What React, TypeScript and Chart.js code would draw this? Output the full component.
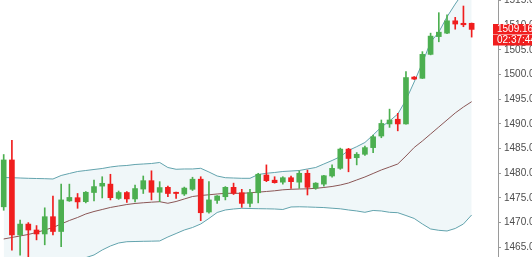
import { useEffect, useRef } from 'react';
import { Chart, registerables } from 'chart.js';

Chart.register(...registerables);

const opens = [1473.2, 1482.7, 1467.5, 1469.7, 1468.5, 1467.7, 1471.2, 1468.2, 1474.4, 1475.05, 1474.25, 1476.1, 1477.4, 1477.8, 1474.9, 1476.1, 1474.8, 1476.8, 1478.5, 1476.15, 1477.15, 1476.15, 1475.8, 1476.75, 1478.8, 1472.15, 1474.5, 1475.25, 1477.15, 1476.05, 1473.9, 1476.05, 1479.65, 1478.6, 1478.2, 1479.1, 1478.2, 1480.0, 1477.0, 1477.8, 1479.45, 1481.0, 1484.9, 1483.15, 1483.85, 1485.2, 1487.55, 1490.0, 1490.95, 1490.0, 1499.5, 1499.25, 1504.1, 1507.7, 1508.4, 1510.9, 1510.4, 1510.4];
const highs = [1483.8, 1486.7, 1470.5, 1470.0, 1469.4, 1473.0, 1475.4, 1477.8, 1477.8, 1475.9, 1476.3, 1478.6, 1479.3, 1479.8, 1476.4, 1476.3, 1477.6, 1479.45, 1480.5, 1478.3, 1477.4, 1476.2, 1477.2, 1479.2, 1479.3, 1478.3, 1475.5, 1477.3, 1478.0, 1476.75, 1476.75, 1480.0, 1481.7, 1479.3, 1479.3, 1479.45, 1480.5, 1480.65, 1478.1, 1479.6, 1481.7, 1485.1, 1485.05, 1484.2, 1485.5, 1487.75, 1490.8, 1493.0, 1492.15, 1500.6, 1499.6, 1504.65, 1508.4, 1512.55, 1512.1, 1511.6, 1513.9, 1510.45];
const lows = [1472.5, 1464.4, 1463.4, 1462.5, 1466.5, 1465.5, 1467.5, 1465.1, 1474.3, 1472.9, 1474.0, 1474.4, 1475.0, 1474.6, 1474.7, 1474.1, 1474.2, 1475.9, 1474.6, 1474.25, 1475.25, 1474.9, 1475.5, 1476.5, 1470.4, 1471.9, 1473.9, 1474.6, 1475.7, 1473.1, 1473.2, 1474.0, 1478.3, 1478.0, 1477.8, 1476.95, 1476.95, 1475.6, 1476.75, 1477.4, 1479.2, 1480.8, 1480.3, 1481.7, 1483.6, 1484.2, 1487.2, 1489.3, 1488.6, 1489.95, 1499.0, 1499.2, 1504.0, 1506.65, 1508.3, 1509.2, 1509.7, 1507.6];
const closes = [1482.7, 1467.5, 1469.7, 1468.5, 1467.7, 1471.2, 1468.2, 1474.6, 1475.1, 1474.2, 1476.15, 1477.3, 1477.97, 1475.05, 1476.1, 1474.8, 1476.9, 1478.5, 1476.15, 1477.1, 1475.9, 1475.9, 1477.0, 1478.8, 1472.0, 1474.6, 1475.4, 1477.15, 1475.95, 1473.9, 1476.05, 1479.8, 1478.5, 1478.1, 1479.1, 1478.3, 1480.0, 1477.15, 1478.0, 1479.5, 1481.0, 1484.9, 1483.0, 1483.85, 1485.2, 1487.4, 1490.1, 1490.8, 1490.0, 1499.4, 1499.1, 1504.1, 1507.8, 1508.6, 1510.9, 1510.25, 1510.1, 1509.16];

const upperBand = [1479.14, 1479.1, 1479.04, 1478.98, 1478.94, 1478.9, 1478.84, 1479.55, 1479.96, 1480.36, 1480.56, 1480.77, 1480.97, 1481.27, 1481.48, 1481.58, 1481.78, 1481.88, 1481.98, 1482.19, 1481.17, 1480.81, 1480.87, 1480.87, 1481.01, 1480.26, 1479.45, 1479.1, 1479.04, 1478.98, 1478.98, 1479.75, 1480.0, 1480.16, 1480.36, 1480.46, 1480.56, 1480.87, 1481.17, 1481.88, 1482.59, 1483.36, 1484.62, 1485.39, 1486.24, 1487.76, 1489.38, 1490.6, 1492.0, 1494.85, 1498.5, 1502.35, 1506.6, 1508.6, 1511.7, 1514.3, 1516.7, 1518.8];
const middleBand = [1466.68, 1466.99, 1467.29, 1467.6, 1468.0, 1468.5, 1469.01, 1469.72, 1470.43, 1471.04, 1471.75, 1472.25, 1472.66, 1473.07, 1473.37, 1473.67, 1473.88, 1474.02, 1474.14, 1474.24, 1473.92, 1474.28, 1474.79, 1475.29, 1475.5, 1475.64, 1475.8, 1475.94, 1475.94, 1475.94, 1476.04, 1476.17, 1476.31, 1476.45, 1476.65, 1476.75, 1476.81, 1476.85, 1476.95, 1477.12, 1477.32, 1477.62, 1478.03, 1478.64, 1479.25, 1479.96, 1480.67, 1481.27, 1481.88, 1483.5, 1485.23, 1486.54, 1487.96, 1489.38, 1490.8, 1492.22, 1493.43, 1494.51];
const lowerBand = [1454.2, 1454.9, 1455.5, 1456.2, 1457.1, 1458.1, 1459.2, 1459.9, 1460.9, 1461.7, 1462.9, 1463.44, 1464.45, 1465.26, 1465.87, 1466.13, 1466.17, 1466.21, 1466.24, 1466.28, 1467.09, 1467.79, 1468.5, 1469.01, 1469.72, 1470.84, 1472.05, 1472.56, 1472.76, 1472.9, 1472.86, 1472.82, 1472.8, 1472.76, 1472.66, 1473.17, 1473.21, 1473.17, 1473.11, 1473.05, 1472.92, 1472.8, 1472.56, 1472.36, 1472.09, 1472.46, 1472.36, 1472.09, 1472.01, 1471.44, 1470.84, 1469.72, 1468.71, 1468.44, 1468.3, 1468.81, 1469.72, 1471.55];

const yTicks = [1465, 1470, 1475, 1480, 1485, 1490, 1495, 1500, 1505, 1510, 1515];
const lastPriceText = '1509.16';
const countdownText = '02:37:44';

const GREEN = '#4caf50';
const RED = '#f01e1e';
const BAND = '#62a3ad';
const MID = '#8a5656';
const FILL = 'rgba(215,235,240,0.38)';

export default function App() {
  const ref = useRef<HTMLCanvasElement>(null);

  useEffect(() => {
    const idx = opens.map((_, i) => i);
    const colors = idx.map((i) => (closes[i] >= opens[i] ? GREEN : RED));

    const priceLabel = {
      id: 'priceLabel',
      afterDraw(chart: any) {
        const ctx = chart.ctx;
        const ys = chart.scales.y;
        const y = Math.round(ys.getPixelForValue(closes[closes.length - 1]));
        const x0 = chart.chartArea.right - 5;
        ctx.save();
        ctx.fillStyle = RED;
        ctx.fillRect(x0, y - 5, 40, 10.5);
        ctx.fillRect(x0, y + 6, 40, 10.5);
        ctx.fillStyle = '#ffffff';
        ctx.font = '10px "Liberation Sans", Arial, sans-serif';
        ctx.textAlign = 'left';
        ctx.textBaseline = 'middle';
        ctx.fillText(lastPriceText, x0 + 4, y + 0.5);
        ctx.fillText(countdownText, x0 + 4, y + 11.5);
        ctx.restore();
      },
    };

    const chart = new Chart(ref.current as HTMLCanvasElement, {
      type: 'bar',
      data: {
        datasets: [
          {
            type: 'bar',
            data: idx.map((i) => ({ x: i, y: [opens[i], closes[i]] })) as any,
            backgroundColor: colors,
            barThickness: 5,
            grouped: false,
            borderWidth: 0,
          } as any,
          {
            type: 'bar',
            data: idx.map((i) => ({ x: i, y: [lows[i], highs[i]] })) as any,
            backgroundColor: colors,
            barThickness: 1,
            grouped: false,
            borderWidth: 0,
          } as any,
          {
            type: 'line',
            data: idx.map((i) => ({ x: i, y: middleBand[i] })),
            borderColor: MID,
            borderWidth: 1,
            pointRadius: 0,
            fill: false,
          } as any,
          {
            type: 'line',
            data: idx.map((i) => ({ x: i, y: upperBand[i] })),
            borderColor: BAND,
            borderWidth: 1,
            pointRadius: 0,
            fill: false,
          } as any,
          {
            type: 'line',
            data: idx.map((i) => ({ x: i, y: lowerBand[i] })),
            borderColor: BAND,
            borderWidth: 1,
            pointRadius: 0,
            fill: '-1',
            backgroundColor: FILL,
          } as any,
        ],
      },
      options: {
        animation: false,
        responsive: false,
        devicePixelRatio: 1,
        layout: { padding: 0, autoPadding: false } as any,
        plugins: {
          legend: { display: false },
          tooltip: { enabled: false },
          filler: { drawTime: 'beforeDatasetsDraw' } as any,
        },
        scales: {
          x: {
            type: 'linear',
            display: false,
            offset: false,
            min: -0.45,
            max: 60.21,
          },
          y: {
            type: 'linear',
            position: 'right',
            min: 1463.03,
            max: 1515.12,
            afterFit: (s: any) => {
              s.width = 34;
              s.paddingTop = 0;
              s.paddingBottom = 0;
            },
            afterBuildTicks: (s: any) => {
              s.ticks = yTicks.map((v) => ({ value: v }));
            },
            grid: {
              drawOnChartArea: false,
              drawTicks: true,
              tickLength: 3,
              color: '#9a9a9a',
            },
            border: { display: true, color: '#9a9a9a' },
            ticks: {
              padding: 3,
              color: '#4d4d4d',
              font: { size: 10, family: '"Liberation Sans", Arial, sans-serif' },
              callback: (v: any) => Number(v).toFixed(2),
            },
          },
        },
      },
      plugins: [priceLabel],
    });
    return () => chart.destroy();
  }, []);

  return (
    <div style={{ position: 'fixed', left: 0, top: 0, width: 532, height: 257, background: '#fff' }}>
      <canvas ref={ref} width={532} height={257} style={{ display: 'block' }} />
    </div>
  );
}
